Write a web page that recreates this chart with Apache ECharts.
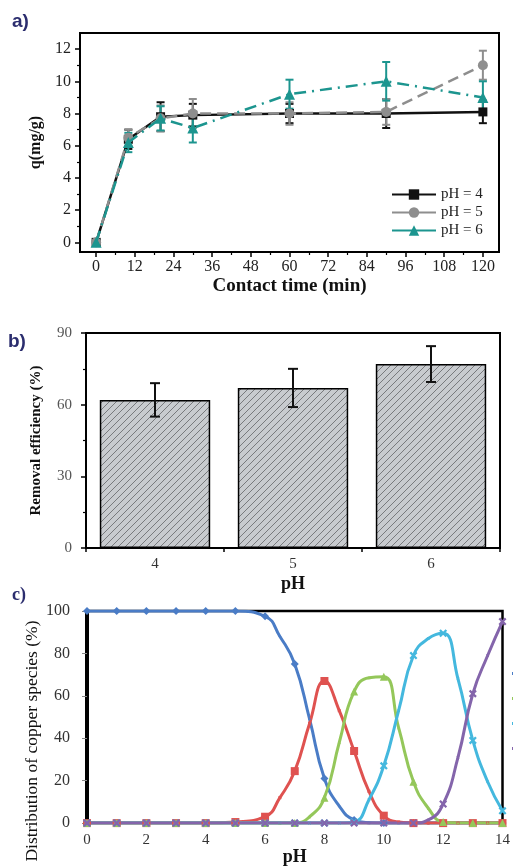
<!DOCTYPE html>
<html>
<head>
<meta charset="utf-8">
<script src="https://cdn.jsdelivr.net/npm/echarts@6/dist/echarts.min.js"></script>
<style>
  html, body { margin: 0; padding: 0; background: #fff; }
  #main { width: 513px; height: 867px; }
</style>
</head>
<body>
<div id="main"></div>
<script>
// a) adsorption vs contact time
let timeMin = [0, 10, 20, 30, 60, 90, 120];
let q4 = [0, 6.4, 7.8, 7.9, 8.0, 8.0, 8.1];
let e4 = [0.2, 0.6, 0.9, 0.7, 0.6, 0.9, 0.7];
let q5 = [0, 6.5, 7.7, 8.0, 8.0, 8.1, 11.0];
let e5 = [0.2, 0.5, 0.8, 0.9, 0.7, 0.8, 0.9];
let q6 = [0, 6.2, 7.7, 7.1, 9.2, 10.0, 9.0];
let e6 = [0.2, 0.6, 0.75, 0.9, 0.9, 1.2, 1.0];
let timeTicks = [0, 12, 24, 36, 48, 60, 72, 84, 96, 108, 120];
let timeMinor = [6, 18, 30, 42, 54, 66, 78, 90, 102, 114];
let qTicks = [0, 2, 4, 6, 8, 10, 12];
let qMinor = [1, 3, 5, 7, 9, 11];

// b) removal efficiency vs pH
let phCat = ['4', '5', '6'];
let removal = [62, 67, 77];
let removalErr = [7, 8, 7.5];

// c) copper species distribution
let phC = [0, 1, 2, 3, 4, 5, 6, 6.5, 7, 7.5, 8, 8.5, 9, 9.5, 10, 10.5, 11, 11.5, 12, 12.5, 13, 13.5, 14];
let cu2 =   [100, 100, 100, 100, 100, 100, 97.5, 88, 75, 49, 21, 8, 1.5, 0.2, 0, 0, 0, 0, 0, 0, 0, 0, 0];
let cuOH =  [0, 0, 0, 0, 0, 0.5, 3, 12, 24.5, 47, 67, 53, 34, 15, 3.5, 0.5, 0, 0, 0, 0, 0, 0, 0];
let cuOH2 = [0, 0, 0, 0, 0, 0, 0, 0, 0, 3, 12, 38, 62, 68.5, 69, 45, 19.5, 7, 0.5, 0, 0, 0, 0];
let cuOH3 = [0, 0, 0, 0, 0, 0, 0, 0, 0, 0, 0, 0, 0.5, 11, 27, 53, 79, 87, 89.5, 68, 39, 19.5, 5.8];
let cuOH4 = [0, 0, 0, 0, 0, 0, 0, 0, 0, 0, 0, 0, 0, 0, 0, 0, 0, 1.5, 9, 31, 61, 79, 95];

let serif = 'Liberation Serif';

let chart = echarts.init(document.getElementById('main'));

// hatch pattern for bars
let tile = document.createElement('canvas');
tile.width = 7; tile.height = 7;
let tc = tile.getContext('2d');
tc.fillStyle = '#c8cbcf';
tc.fillRect(0, 0, 7, 7);
tc.strokeStyle = '#6e7074';
tc.lineWidth = 0.9;
tc.beginPath();
tc.moveTo(-1, 8); tc.lineTo(8, -1);
tc.moveTo(-1, 1); tc.lineTo(1, -1);
tc.moveTo(6, 8); tc.lineTo(8, 6);
tc.stroke();

function errBars(color, cap, width) {
    return function (params, api) {
        let x = api.value(0);
        let lo = api.coord([x, api.value(1)]);
        let hi = api.coord([x, api.value(2)]);
        let s = { stroke: color, lineWidth: width };
        return {
            type: 'group',
            children: [
                { type: 'line', shape: { x1: lo[0], y1: lo[1], x2: hi[0], y2: hi[1] }, style: s },
                { type: 'line', shape: { x1: lo[0] - cap, y1: lo[1], x2: lo[0] + cap, y2: lo[1] }, style: s },
                { type: 'line', shape: { x1: hi[0] - cap, y1: hi[1], x2: hi[0] + cap, y2: hi[1] }, style: s }
            ]
        };
    };
}

function errData(xs, m, e) {
    return xs.map(function (x, i) { return [x, m[i] - e[i], m[i] + e[i]]; });
}
function pairs(xs, ys) {
    return xs.map(function (x, i) { return [x, ys[i]]; });
}
function markSize(big) {
    return function (v) { return Number.isInteger(v[0]) ? big : 3; };
}

let crossPath = 'path://M2,0L5,3L8,0L10,2L7,5L10,8L8,10L5,7L2,10L0,8L3,5L0,2Z';

let black = '#111';
let gray = '#8e8e8e';
let teal = '#1c958f';

let noThing = { show: false };
function axLine(w, c) {
    return { show: true, onZero: false, lineStyle: { color: c || '#000', width: w } };
}

let option = {
    animation: false,
    backgroundColor: '#fff',
    graphic: [
        { type: 'text', left: 12, top: 12, style: { text: 'a)', font: 'bold 19px "Liberation Sans"', fill: '#2b2d6e' } },
        { type: 'text', left: 8, top: 332, style: { text: 'b)', font: 'bold 19px "Liberation Sans"', fill: '#2b2d6e' } },
        { type: 'text', left: 12, top: 586, style: { text: 'c)', font: 'bold 18px "Liberation Serif"', fill: '#2b2d6e' } },
        {
            type: 'text', x: 32, y: 741, rotation: Math.PI / 2,
            style: {
                text: 'Distribution of copper species (%)', font: '17.5px "Liberation Serif"', fill: '#111',
                align: 'center', verticalAlign: 'middle'
            }
        }
    ],
    grid: [
        { left: 80, top: 33, width: 419, height: 219, show: true, borderColor: '#000', borderWidth: 2 },
        { left: 86, top: 333, width: 414, height: 215, show: true, borderColor: '#000', borderWidth: 2 },
        { left: 87, top: 611, width: 416, height: 218, show: true, borderColor: '#000', borderWidth: 2.5 }
    ],
    legend: [
        {
            orient: 'vertical', left: 386, top: 182, itemGap: 3,
            itemWidth: 44, itemHeight: 13,
            textStyle: { fontFamily: serif, fontSize: 15, color: '#222' },
            data: [
                { name: 'pH = 4', lineStyle: { type: 'solid' } },
                { name: 'pH = 5', lineStyle: { type: 'solid' } },
                { name: 'pH = 6', lineStyle: { type: 'solid' } }
            ]
        },
        {
            orient: 'vertical', left: 507, top: 667, itemGap: 22,
            itemWidth: 10, itemHeight: 3, icon: 'rect',
            textStyle: { fontSize: 2, color: '#fff' },
            data: ['Cu2+', 'Cu(OH)2', 'Cu(OH)3-', 'Cu(OH)4 2-']
        }
    ],
    xAxis: [
        {   // 0 a main
            gridIndex: 0, type: 'value', min: -5, max: 125,
            axisLine: axLine(2),
            axisTick: { show: true, inside: false, length: 5, customValues: timeTicks, lineStyle: { color: '#000', width: 1.5 } },
            axisLabel: { customValues: timeTicks, margin: 7, fontFamily: serif, fontSize: 16, color: '#222' },
            splitLine: noThing,
            name: 'Contact time (min)', nameLocation: 'middle', nameGap: 25,
            nameTextStyle: { fontFamily: serif, fontSize: 19, fontWeight: 'bold', color: '#111' }
        },
        {   // 1 a minor ticks
            gridIndex: 0, type: 'value', min: -5, max: 125, position: 'bottom',
            axisLine: { show: false, onZero: false }, axisLabel: noThing, splitLine: noThing,
            axisTick: { show: true, length: 3, customValues: timeMinor, lineStyle: { color: '#000', width: 1.2 } }
        },
        {   // 2 b main
            gridIndex: 1, type: 'category', data: phCat,
            axisLine: axLine(2),
            axisTick: { show: true, inside: false, length: 4, lineStyle: { color: '#000', width: 1.5 } },
            axisLabel: { margin: 9, fontFamily: serif, fontSize: 15, color: '#333' },
            name: 'pH', nameLocation: 'middle', nameGap: 27,
            nameTextStyle: { fontFamily: serif, fontSize: 18, fontWeight: 'bold', color: '#111' }
        },
        {   // 3 c main
            gridIndex: 2, type: 'value', min: 0, max: 14, interval: 2,
            axisLine: axLine(1, '#444'),
            axisTick: noThing,
            axisLabel: { margin: 9, fontFamily: serif, fontSize: 15, color: '#333' },
            splitLine: noThing,
            name: 'pH', nameLocation: 'middle', nameGap: 22,
            nameTextStyle: { fontFamily: serif, fontSize: 18, fontWeight: 'bold', color: '#111' }
        }
    ],
    yAxis: [
        {   // 0 a main
            gridIndex: 0, type: 'value', min: -0.6, max: 13,
            axisLine: axLine(2),
            axisTick: { show: true, inside: false, length: 5, customValues: qTicks, lineStyle: { color: '#000', width: 1.5 } },
            axisLabel: { customValues: qTicks, margin: 9, fontFamily: serif, fontSize: 16, color: '#222' },
            splitLine: noThing,
            name: 'q(mg/g)', nameLocation: 'middle', nameGap: 30,
            nameTextStyle: { fontFamily: serif, fontSize: 16, fontWeight: 'bold', color: '#111' }
        },
        {   // 1 a minor
            gridIndex: 0, type: 'value', min: -0.6, max: 13, position: 'left',
            axisLine: { show: false, onZero: false }, axisLabel: noThing, splitLine: noThing,
            axisTick: { show: true, length: 3, customValues: qMinor, lineStyle: { color: '#000', width: 1.2 } }
        },
        {   // 2 b main
            gridIndex: 1, type: 'value', min: 0, max: 90, interval: 30,
            axisLine: axLine(2),
            axisTick: { show: true, inside: false, length: 5, lineStyle: { color: '#000', width: 1.5 } },
            axisLabel: { margin: 14, fontFamily: serif, fontSize: 15, color: '#555' },
            splitLine: noThing,
            name: 'Removal efficiency (%)', nameLocation: 'middle', nameGap: 42,
            nameTextStyle: { fontFamily: serif, fontSize: 15, fontWeight: 'bold', color: '#111' }
        },
        {   // 3 b minor
            gridIndex: 1, type: 'value', min: 0, max: 90, position: 'left',
            axisLine: { show: false, onZero: false }, axisLabel: noThing, splitLine: noThing,
            axisTick: { show: true, length: 3, customValues: [15, 45, 75], lineStyle: { color: '#000', width: 1.2 } }
        },
        {   // 4 c main
            gridIndex: 2, type: 'value', min: 0, max: 100, interval: 20,
            axisLine: axLine(4),
            axisTick: { show: true, inside: false, length: 5, lineStyle: { color: '#888', width: 1 } },
            axisLabel: { margin: 17, fontFamily: serif, fontSize: 16, color: '#333' },
            splitLine: noThing
        }
    ],
    series: [
        // panel a error bars
        { type: 'custom', xAxisIndex: 0, yAxisIndex: 0, z: 1, renderItem: errBars(black, 4, 2), encode: { x: 0, y: [1, 2] }, data: errData(timeMin, q4, e4) },
        { type: 'custom', xAxisIndex: 0, yAxisIndex: 0, z: 1, renderItem: errBars(gray, 4, 2), encode: { x: 0, y: [1, 2] }, data: errData(timeMin, q5, e5) },
        { type: 'custom', xAxisIndex: 0, yAxisIndex: 0, z: 1, renderItem: errBars(teal, 4, 2), encode: { x: 0, y: [1, 2] }, data: errData(timeMin, q6, e6) },
        {
            name: 'pH = 4', type: 'line', xAxisIndex: 0, yAxisIndex: 0, z: 3,
            data: pairs(timeMin, q4), symbol: 'rect', symbolSize: 9,
            itemStyle: { color: black }, lineStyle: { color: black, width: 2.5 }
        },
        {
            name: 'pH = 5', type: 'line', xAxisIndex: 0, yAxisIndex: 0, z: 4,
            data: pairs(timeMin, q5), symbol: 'circle', symbolSize: 10,
            itemStyle: { color: gray }, lineStyle: { color: gray, width: 2.5, type: [11, 6] }
        },
        {
            name: 'pH = 6', type: 'line', xAxisIndex: 0, yAxisIndex: 0, z: 5,
            data: pairs(timeMin, q6), symbol: 'triangle', symbolSize: 11,
            itemStyle: { color: teal }, lineStyle: { color: teal, width: 2.5, type: [12, 6, 2, 6] }
        },
        // panel b
        {
            type: 'bar', xAxisIndex: 2, yAxisIndex: 2, barWidth: '80%', z: 2,
            data: removal,
            itemStyle: { color: { image: tile, repeat: 'repeat' }, borderColor: '#000', borderWidth: 1.5 }
        },
        {
            type: 'custom', xAxisIndex: 2, yAxisIndex: 2, z: 3, renderItem: errBars('#111', 5, 2),
            encode: { x: 0, y: [1, 2] },
            data: removal.map(function (v, i) { return [i, v - removalErr[i], v + removalErr[i]]; })
        },
        // panel c
        {
            name: 'Cu2+', type: 'line', xAxisIndex: 3, yAxisIndex: 4, smooth: 0.5,
            data: pairs(phC, cu2), symbol: 'diamond', symbolSize: markSize(8),
            itemStyle: { color: '#4a7cc6' }, lineStyle: { color: '#4a7cc6', width: 3 }
        },
        {
            name: 'Cu(OH)+', type: 'line', xAxisIndex: 3, yAxisIndex: 4, smooth: 0.5,
            data: pairs(phC, cuOH), symbol: 'rect', symbolSize: markSize(8),
            itemStyle: { color: '#df5250' }, lineStyle: { color: '#df5250', width: 3 }
        },
        {
            name: 'Cu(OH)2', type: 'line', xAxisIndex: 3, yAxisIndex: 4, smooth: 0.5,
            data: pairs(phC, cuOH2), symbol: 'triangle', symbolSize: markSize(8),
            itemStyle: { color: '#94c75a' }, lineStyle: { color: '#94c75a', width: 3 }
        },
        {
            name: 'Cu(OH)3-', type: 'line', xAxisIndex: 3, yAxisIndex: 4, smooth: 0.5,
            data: pairs(phC, cuOH3), symbol: crossPath, symbolSize: markSize(8),
            itemStyle: { color: '#44b8de' }, lineStyle: { color: '#44b8de', width: 3 }
        },
        {
            name: 'Cu(OH)4 2-', type: 'line', xAxisIndex: 3, yAxisIndex: 4, smooth: 0.5,
            data: pairs(phC, cuOH4), symbol: crossPath, symbolSize: markSize(8),
            itemStyle: { color: '#8465ab' }, lineStyle: { color: '#8465ab', width: 3 }
        }
    ]
};

chart.setOption(option);
</script>
</body>
</html>
